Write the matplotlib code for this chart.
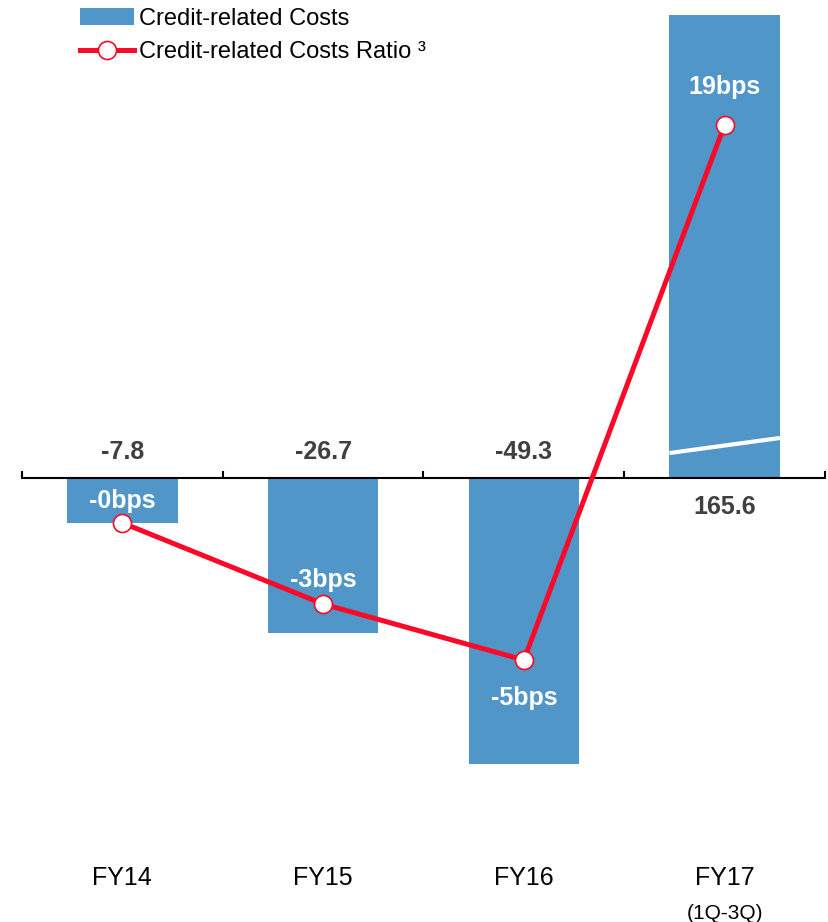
import numpy as np
import matplotlib
matplotlib.use("Agg")
from matplotlib import pyplot as plt
from matplotlib.patches import Patch
from matplotlib.lines import Line2D

plt.rcParams['font.family'] = ['Liberation Sans', 'DejaVu Sans']

# data
years = ["FY14", "FY15", "FY16", "FY17"]
costs = [-7.8, -26.7, -49.3, 165.6]
cost_labels = ["-7.8", "-26.7", "-49.3", "165.6"]
ratio = [-0.1, -3.0, -5.0, 19.0]
ratio_labels = ["-0bps", "-3bps", "-5bps", "19bps"]

BLUE = "#5096C8"
RED = "#FA0A28"
GREY = "#404040"

W, H = 829, 922
fig = plt.figure(figsize=(W / 100, H / 100), dpi=100)

# axes box in pixels: x 22..825, y 15..800 (from top)
ax = fig.add_axes([22 / W, (H - 800) / H, 803 / W, 785 / H])
x = np.arange(len(years))

# bars: 5.8 px per unit, zero line at y=478 px; the tall bar gets clipped
ax.bar(x, costs, width=0.55, color=BLUE, zorder=2)
ax.set_xlim(-0.5, 3.5)
ax.set_ylim(-(800 - 478) / 5.8, (478 - 15) / 5.8)

# break mark across the clipped FY17 bar
ax.plot([3 - 0.275, 3 + 0.275], [4.3, 6.9], color="white", lw=3, zorder=3,
        solid_capstyle="butt")

for s in ["top", "left", "right"]:
    ax.spines[s].set_visible(False)
ax.spines["bottom"].set_position(("data", 0))
ax.spines["bottom"].set_linewidth(1.5)
ax.spines["bottom"].set_zorder(4)
ax.set_yticks([])
ax.set_xticks(x)
ax.set_xticklabels([])
ax.tick_params(axis="x", which="major", length=0)
ax.set_xticks(np.arange(-0.5, 4, 1), minor=True)
ax.tick_params(axis="x", which="minor", direction="in", length=5, width=1.5)

# value labels for the bars
for i, (v, t) in enumerate(zip(costs, cost_labels)):
    off = 19 if v < 0 else -21
    ax.annotate(t, xy=(i, 0), xytext=(0, off), textcoords="offset points",
                ha="center", va="center", fontsize=18, fontweight="bold",
                color=GREY)

# category labels under the chart
tr = matplotlib.transforms.blended_transform_factory(ax.transData, fig.transFigure)
for i, yr in enumerate(years):
    ax.text(i, 1 - 878 / H, yr, transform=tr, ha="center", va="center",
            fontsize=18, color="black")
ax.text(3, 1 - 913 / H, "(1Q-3Q)", transform=tr, ha="center", va="center",
        fontsize=15, color="black")

# ratio line on a second axis, positive side compressed
ax2 = ax.twinx()
k = 0.743


def fwd(v):
    v = np.asarray(v, dtype=float)
    return np.where(v < 0, v, v * k)


def inv(v):
    v = np.asarray(v, dtype=float)
    return np.where(v < 0, v, v / k)


ax2.set_yscale("function", functions=(fwd, inv))
ax2.set_ylim(-10.0, 18.04 / k)
ax2.axis("off")
ax2.plot(x, ratio, color=RED, lw=3.6, marker="o", markersize=13,
         markerfacecolor="white", markeredgecolor=RED, markeredgewidth=1.2,
         zorder=3)

label_offsets = [16, 17, -27, 27]
for i, (v, t, off) in enumerate(zip(ratio, ratio_labels, label_offsets)):
    ax2.annotate(t, xy=(i, v), xytext=(0, off), textcoords="offset points",
                 ha="center", va="center", fontsize=18, fontweight="bold",
                 color="white", zorder=1)

# legend
handles = [
    Patch(facecolor=BLUE, edgecolor="none"),
    Line2D([], [], color=RED, lw=3.6, marker="o", markersize=13,
           markerfacecolor="white", markeredgecolor=RED, markeredgewidth=1.2),
]
fig.legend(handles, ["Credit-related Costs", "Credit-related Costs Ratio ³"],
           loc="upper left", bbox_to_anchor=(63 / W, 1 + 9 / H), frameon=False,
           fontsize=17, handlelength=2.3, handletextpad=0.2, labelspacing=0.5,
           borderpad=0.2)

fig.savefig("out.png", dpi=100)
